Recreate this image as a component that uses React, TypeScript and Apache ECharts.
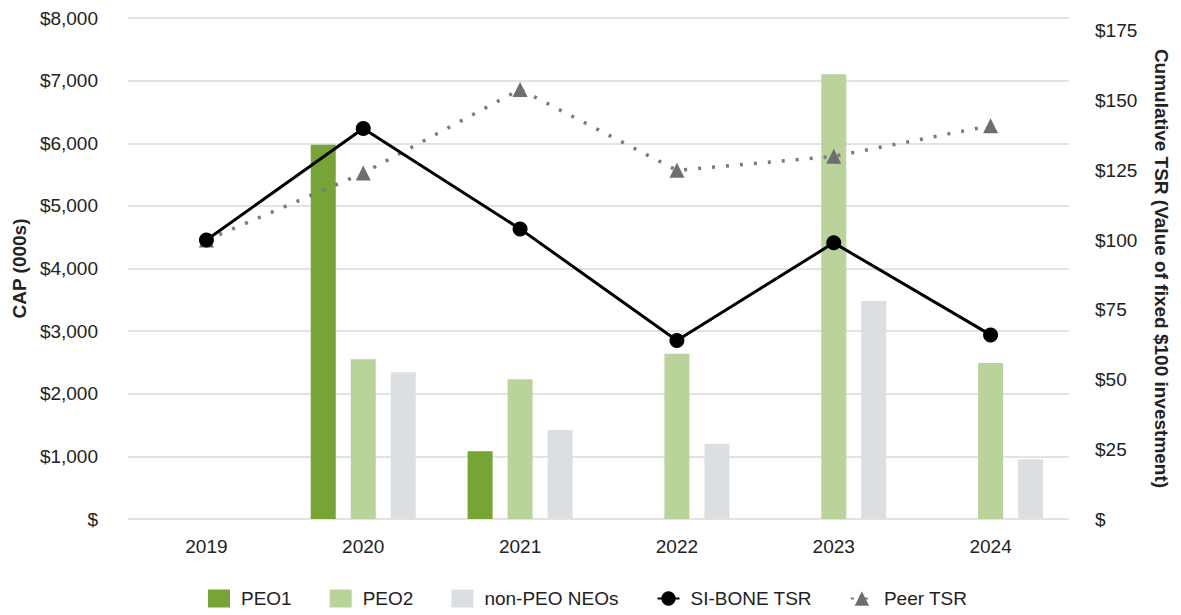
import React, { useEffect, useRef } from "react";
import * as echarts from "echarts";

const years = ["2019", "2020", "2021", "2022", "2023", "2024"];
const peo1 = [null, 5975, 1080, null, null, null];
const peo2 = [null, 2550, 2230, 2640, 7100, 2490];
const nonPeo = [null, 2345, 1420, 1200, 3480, 955];
const siBoneTsr = [100, 140, 104, 64, 99, 66];
const peerTsr = [100, 124, 154, 125, 130, 141];

const FONT = "'Liberation Sans', Arial, sans-serif";

export default function App() {
  const ref = useRef<HTMLDivElement>(null);
  useEffect(() => {
    const chart = echarts.init(ref.current!, null, { renderer: "svg" });
    const fmtMoney = (v: number) => (v === 0 ? "$" : "$" + v.toLocaleString("en-US"));
    chart.setOption({
      animation: false,
      textStyle: { fontFamily: FONT },
      grid: { left: 120, right: 112, top: 10, bottom: 96, containLabel: false, outerBoundsMode: "none" },
      legend: {
        bottom: 2,
        left: 195,
        itemGap: 38,
        itemWidth: 22,
        itemHeight: 18,
        textStyle: { fontSize: 19, color: "#222", fontFamily: FONT, padding: [0, 0, 0, 6] },
        data: [
          { name: "PEO1", icon: "rect" },
          { name: "PEO2", icon: "rect" },
          { name: "non-PEO NEOs", icon: "rect" },
          { name: "SI-BONE TSR" },
          { name: "Peer TSR" },
        ],
      },
      xAxis: {
        type: "category",
        data: years,
        axisLine: { show: false },
        axisTick: { show: false },
        axisLabel: { fontSize: 19, color: "#222", margin: 18, fontFamily: FONT },
      },
      yAxis: [
        {
          type: "value",
          min: 0,
          max: 8000,
          interval: 1000,
          name: "CAP (000s)",
          nameLocation: "middle",
          nameGap: 98,
          nameTextStyle: { fontSize: 19, fontWeight: "bold", color: "#222", fontFamily: FONT },
          axisLine: { show: false },
          axisTick: { show: false },
          axisLabel: { fontSize: 19, color: "#222", margin: 30, formatter: fmtMoney, fontFamily: FONT },
          splitLine: { lineStyle: { color: "#e3e3e3", width: 2 } },
        },
        {
          type: "value",
          min: 0,
          max: 179.6,
          interval: 25,
          position: "right",
          name: "Cumulative TSR (Value of fixed $100 investment)",
          nameLocation: "middle",
          nameRotate: -90,
          nameGap: 83,
          nameTextStyle: { fontSize: 19, fontWeight: "bold", color: "#222", fontFamily: FONT },
          axisLine: { show: false },
          axisTick: { show: false },
          axisLabel: {
            fontSize: 19,
            color: "#222",
            margin: 26,
            fontFamily: FONT,
            formatter: (v: number) => (v % 25 !== 0 ? "" : fmtMoney(v)),
          },
          splitLine: { show: false },
        },
      ],
      series: [
        {
          name: "PEO1",
          type: "bar",
          data: peo1,
          barWidth: 25,
          barGap: "60%",
          itemStyle: { color: "#76a535" },
        },
        {
          name: "PEO2",
          type: "bar",
          data: peo2,
          barWidth: 25,
          barGap: "60%",
          itemStyle: { color: "#b9d39a" },
        },
        {
          name: "non-PEO NEOs",
          type: "bar",
          data: nonPeo,
          barWidth: 25,
          barGap: "60%",
          itemStyle: { color: "#dcdfe2" },
        },
        {
          name: "SI-BONE TSR",
          type: "line",
          yAxisIndex: 1,
          data: siBoneTsr,
          symbol: "circle",
          symbolSize: 15,
          lineStyle: { color: "#000", width: 3 },
          itemStyle: { color: "#000" },
          z: 4,
        },
        {
          name: "Peer TSR",
          type: "line",
          yAxisIndex: 1,
          data: peerTsr,
          symbol: "triangle",
          symbolSize: 15,
          lineStyle: { color: "#7a7a7a", width: 3.5, type: [3, 11] },
          itemStyle: { color: "#6e6e6e" },
          z: 3,
        },
      ],
    });
    return () => chart.dispose();
  }, []);
  return <div ref={ref} style={{ width: 1173, height: 607 }} />;
}
